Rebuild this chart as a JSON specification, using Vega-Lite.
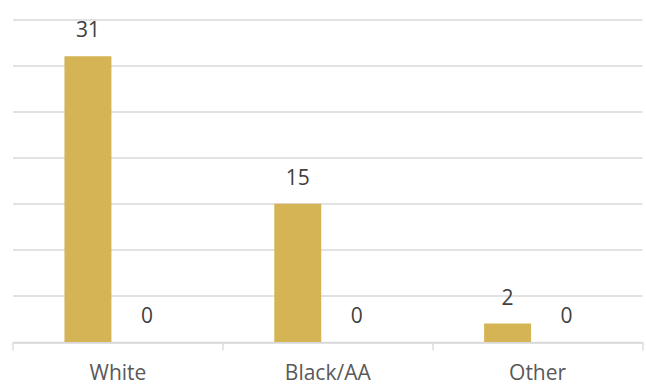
{
  "$schema": "https://vega.github.io/schema/vega-lite/v6.json",
  "autosize": "none",
  "width": 629.5,
  "height": 322.5,
  "padding": {"left": 12.5, "top": 19.5, "right": 4, "bottom": 43},
  "background": "#ffffff",
  "config": {"view": {"stroke": null}, "font": "Open Sans"},
  "data": {
    "values": [
      {"group": "White", "series": "Series1", "value": 31},
      {"group": "White", "series": "Series2", "value": 0},
      {"group": "Black/AA", "series": "Series1", "value": 15},
      {"group": "Black/AA", "series": "Series2", "value": 0},
      {"group": "Other", "series": "Series1", "value": 2},
      {"group": "Other", "series": "Series2", "value": 0}
    ]
  },
  "encoding": {
    "x": {
      "field": "group", "type": "nominal", "sort": null,
      "scale": {"paddingInner": 0, "paddingOuter": 0},
      "axis": {
        "title": null, "labelAngle": 0, "labelFont": "Open Sans", "labelFontSize": 21,
        "labelColor": "#595959", "labelPadding": 12,
        "domainColor": "#D9D9D9", "domainWidth": 1.3,
        "tickColor": "#D9D9D9", "tickWidth": 1.3, "tickSize": 8, "tickBand": "extent",
        "grid": false
      }
    },
    "xOffset": {
      "field": "series", "type": "nominal",
      "scale": {"paddingInner": 0.2034, "paddingOuter": 0.881}
    },
    "y": {
      "field": "value", "type": "quantitative",
      "scale": {"domain": [0, 35], "nice": false},
      "axis": {
        "title": null, "labels": false, "ticks": false, "domain": false,
        "values": [0, 5, 10, 15, 20, 25, 30, 35],
        "grid": true, "gridColor": "#D9D9D9", "gridWidth": 1.3
      }
    }
  },
  "layer": [
    {
      "mark": {"type": "bar"},
      "encoding": {
        "color": {
          "field": "series", "type": "nominal",
          "scale": {"domain": ["Series1", "Series2"], "range": ["#D4B455", "#A5A5A5"]},
          "legend": null
        }
      }
    },
    {
      "mark": {"type": "text", "baseline": "alphabetic", "dy": -19, "fontSize": 21, "color": "#404040", "font": "Open Sans"},
      "encoding": {"text": {"field": "value", "type": "quantitative"}}
    }
  ]
}
